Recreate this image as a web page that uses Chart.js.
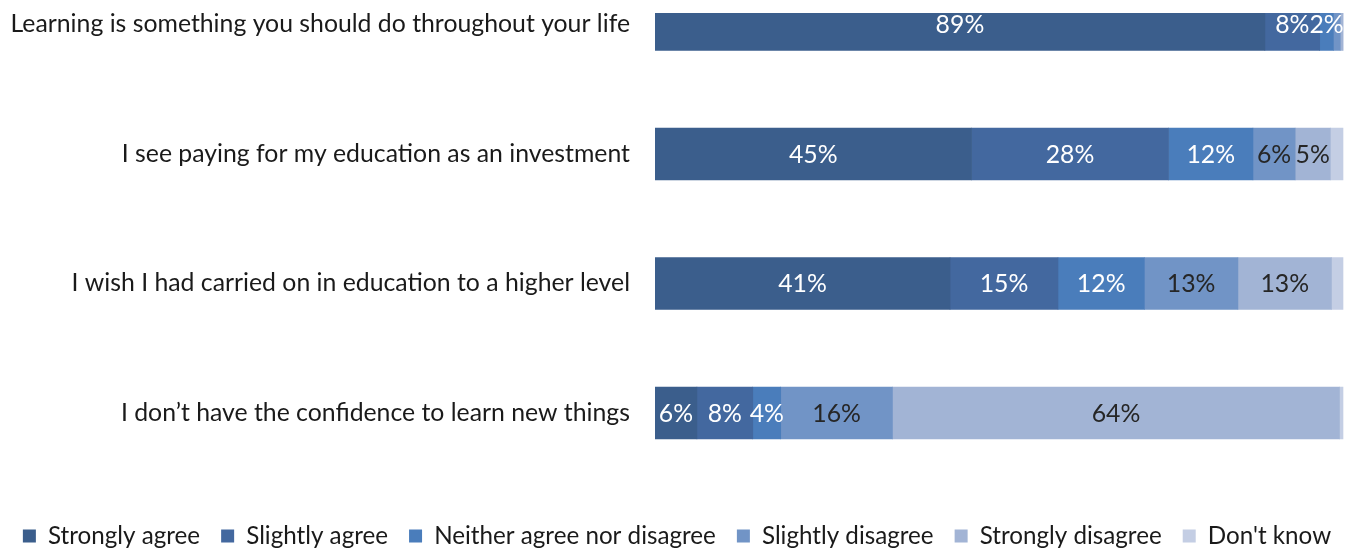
<!DOCTYPE html>
<html>
<head>
<meta charset="utf-8">
<script src="https://cdn.jsdelivr.net/npm/chart.js@4/dist/chart.umd.min.js"></script>
<style>
  html, body { margin: 0; padding: 0; background: #fff; overflow: hidden; }
  #wrap { position: relative; width: 1354px; height: 558px; }
</style>
</head>
<body>
<div id="wrap"><canvas id="c" width="1354" height="558"></canvas></div>
<script>
const categories = [
  "Learning is something you should do throughout your life",
  "I see paying for my education as an investment",
  "I wish I had carried on in education to a higher level",
  "I don\u2019t have the confidence to learn new things"
];
const seriesNames = ["Strongly agree", "Slightly agree", "Neither agree nor disagree", "Slightly disagree", "Strongly disagree", "Don't know"];
const stronglyAgree    = [89, 45, 41, 6];
const slightlyAgree    = [8, 28, 15, 8];
const neither          = [2, 12, 12, 4];
const slightlyDisagree = [1, 6, 13, 16];
const stronglyDisagree = [0.4, 5, 13, 64];
const dontKnow         = [0, 1.8, 1.6, 0.5];

const colors = ["#3b5e8c", "#43689f", "#4a7dbb", "#7194c6", "#a2b4d5", "#c4cee4"];
const labelColors = ["#ffffff", "#ffffff", "#ffffff", "#262626", "#262626", "#262626"];
const FONT = "Lato";
const FS = 24.8;
const LFS = 24.2;

const raw = [stronglyAgree, slightlyAgree, neither, slightlyDisagree, stronglyDisagree, dontKnow];
const totals = categories.map((_, i) => raw.reduce((s, arr) => s + arr[i], 0));

const datasets = raw.map((arr, k) => ({
  label: seriesNames[k],
  data: arr.map((v, i) => ({ x: v / totals[i] * 100, y: i, raw: v })),
  backgroundColor: colors[k],
  borderWidth: 0,
  barThickness: 52
}));

const labelPlugin = {
  id: 'segLabels',
  afterDatasetsDraw(chart) {
    const ctx = chart.ctx;
    ctx.save();
    ctx.font = FS + "px " + FONT;
    ctx.textAlign = 'center';
    ctx.textBaseline = 'middle';
    chart.data.datasets.forEach((ds, k) => {
      if (k === 5) return;
      const meta = chart.getDatasetMeta(k);
      meta.data.forEach((el, i) => {
        const v = ds.data[i].raw;
        if (v < 2) return;
        const p = el.getProps(['x', 'y', 'base'], true);
        ctx.fillStyle = labelColors[k];
        ctx.fillText(Math.round(v) + '%', (p.x + p.base) / 2, p.y + 1);
      });
    });
    ctx.restore();
  }
};

new Chart(document.getElementById('c'), {
  type: 'bar',
  data: { datasets },
  plugins: [labelPlugin],
  options: {
    indexAxis: 'y',
    responsive: false,
    animation: false,
    layout: { padding: { top: 13, right: 0, left: 0, bottom: 0 } },
    scales: {
      x: { type: 'linear', stacked: true, min: 0, max: 101.6, display: false },
      y: {
        type: 'linear', stacked: true, reverse: true, offset: false,
        min: -0.0888, max: 3.6935,
        grid: { display: false, drawTicks: false, offset: false },
        border: { display: false },
        afterBuildTicks(scale) { scale.ticks = categories.map((_, i) => ({ value: i })); },
        afterFit(scale) { scale.width = 655; scale.paddingTop = 0; scale.paddingBottom = 0; },
        ticks: {
          padding: 25,
          color: '#1a1a1a',
          font: { family: FONT, size: FS },
          callback: (v) => categories[v] || ''
        }
      }
    },
    plugins: {
      legend: {
        position: 'bottom',
        labels: {
          boxWidth: 13, boxHeight: 13, padding: 21,
          color: '#1a1a1a',
          font: { family: FONT, size: LFS }
        }
      },
      tooltip: { enabled: false }
    }
  }
});
</script>
</body>
</html>
